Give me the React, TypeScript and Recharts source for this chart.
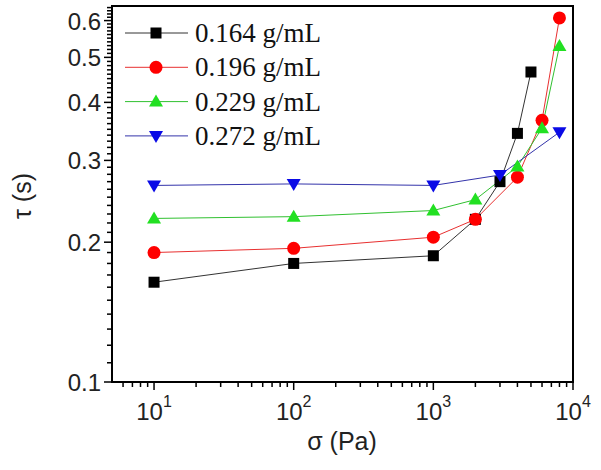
import { ComposedChart, Label, Legend, Line, ReferenceArea, XAxis, YAxis } from "recharts";

// stress sigma (Pa) and relaxation time tau (s), one pair of arrays per concentration
const sigma164 = [10, 100, 1000, 2000, 3000, 4000, 5000];
const tau164 = [0.164, 0.18, 0.187, 0.224, 0.27, 0.343, 0.465];

const sigma196 = [10, 100, 1000, 2000, 4000, 6000, 8000];
const tau196 = [0.19, 0.194, 0.205, 0.224, 0.276, 0.366, 0.608];

const sigma229 = [10, 100, 1000, 2000, 4000, 6000, 8000];
const tau229 = [0.225, 0.227, 0.234, 0.247, 0.291, 0.352, 0.529];

const sigma272 = [10, 100, 1000, 3000, 8000];
const tau272 = [0.265, 0.267, 0.265, 0.279, 0.345];

const seriesNames = ["0.164 g/mL", "0.196 g/mL", "0.229 g/mL", "0.272 g/mL"];

const xMajor = [10, 100, 1000, 10000];
const xMinor = [6, 7, 8, 9, 20, 30, 40, 50, 60, 70, 80, 90, 200, 300, 400, 500, 600, 700, 800, 900, 2000, 3000, 4000, 5000, 6000, 7000, 8000, 9000];
const yMajor = [0.1, 0.2, 0.3, 0.4, 0.5, 0.6];
const yMinor = [
  0.11, 0.12, 0.13, 0.14, 0.15, 0.16, 0.17, 0.18, 0.19,
  0.21, 0.22, 0.23, 0.24, 0.25, 0.26, 0.27, 0.28, 0.29,
  0.31, 0.32, 0.33, 0.34, 0.35, 0.36, 0.37, 0.38, 0.39,
  0.41, 0.42, 0.43, 0.44, 0.45, 0.46, 0.47, 0.48, 0.49,
  0.51, 0.52, 0.53, 0.54, 0.55, 0.56, 0.57, 0.58, 0.59,
  0.61, 0.62, 0.63, 0.64,
];

const X_DOMAIN: [number, number] = [5, 10000];
const Y_DOMAIN: [number, number] = [0.1, 0.645];

const toPoints = (xs: number[], ys: number[]) => xs.map((x, i) => ({ x, y: ys[i] }));

const series = [
  { name: seriesNames[0], data: toPoints(sigma164, tau164), fill: "#000000", stroke: "#333333", shape: "square" },
  { name: seriesNames[1], data: toPoints(sigma196, tau196), fill: "#ff0000", stroke: "#e83030", shape: "circle" },
  { name: seriesNames[2], data: toPoints(sigma229, tau229), fill: "#22e022", stroke: "#30c030", shape: "up" },
  { name: seriesNames[3], data: toPoints(sigma272, tau272), fill: "#0a0ae6", stroke: "#3333aa", shape: "down" },
];

const AXIS_FONT = "'Liberation Sans', Arial, sans-serif";
const SERIF_FONT = "'Liberation Serif', 'Times New Roman', serif";

const Marker = ({ cx, cy, shape, fill }: { cx: number; cy: number; shape: string; fill: string }) => {
  if (shape === "square") return <rect x={cx - 5.5} y={cy - 5.5} width={11} height={11} fill={fill} />;
  if (shape === "circle") return <circle cx={cx} cy={cy} r={6.5} fill={fill} />;
  if (shape === "up")
    return <polygon points={`${cx},${cy - 7} ${cx - 7},${cy + 5} ${cx + 7},${cy + 5}`} fill={fill} />;
  return <polygon points={`${cx - 7},${cy - 5} ${cx + 7},${cy - 5} ${cx},${cy + 7}`} fill={fill} />;
};

const XTick = ({ x, y, payload }: any) => {
  const v = payload.value;
  const major = xMajor.includes(v);
  return (
    <g>
      <line x1={x} x2={x} y1={y} y2={y + (major ? 8 : 5)} stroke="#000" strokeWidth={1.5} />
      {major && (
        <text x={x} y={y + 38} textAnchor="middle" fontFamily={AXIS_FONT} fontSize={24} fill="#222">
          10
          <tspan dy={-13} fontSize={16}>
            {Math.round(Math.log10(v))}
          </tspan>
        </text>
      )}
    </g>
  );
};

const YTick = ({ x, y, payload }: any) => {
  const v = payload.value;
  const major = yMajor.some((m) => Math.abs(m - v) < 1e-9);
  return (
    <g>
      <line x1={x} x2={x - (major ? 8 : 5)} y1={y} y2={y} stroke="#000" strokeWidth={1.5} />
      {major && (
        <text x={x - 11} y={y + 9} textAnchor="end" fontFamily={AXIS_FONT} fontSize={24} fill="#222">
          {v.toFixed(1)}
        </text>
      )}
    </g>
  );
};

const LegendBox = () => (
  <svg width={230} height={140}>
    {series.map((s, i) => {
      const cy = 17 + i * 34.3;
      return (
        <g key={s.name}>
          <line x1={5} x2={68} y1={cy} y2={cy} stroke={s.stroke} strokeWidth={1} />
          <Marker cx={36} cy={cy} shape={s.shape} fill={s.fill} />
          <text x={75} y={cy + 9} fontFamily={SERIF_FONT} fontSize={27} fill="#111">
            {s.name}
          </text>
        </g>
      );
    })}
  </svg>
);

export default function App() {
  return (
    <div style={{ position: "absolute", left: 0, top: 0 }}>
      <ComposedChart width={601} height={470} margin={{ top: 6, right: 28, bottom: 0, left: 0 }}>
        <XAxis
          dataKey="x"
          type="number"
          scale="log"
          domain={X_DOMAIN}
          allowDataOverflow
          ticks={[...xMinor, ...xMajor].sort((a, b) => a - b)}
          interval={0}
          tick={<XTick />}
          tickLine={false}
          tickSize={0}
          tickMargin={0}
          height={88}
          axisLine={{ stroke: "#000", strokeWidth: 2 }}
        >
          <Label
            content={() => (
              <text x={342} y={450} textAnchor="middle" fontFamily={AXIS_FONT} fontSize={25} fill="#222">
                σ (Pa)
              </text>
            )}
          />
        </XAxis>
        <YAxis
          dataKey="y"
          type="number"
          scale="log"
          domain={Y_DOMAIN}
          allowDataOverflow
          ticks={[...yMajor, ...yMinor].sort((a, b) => a - b)}
          interval={0}
          tick={<YTick />}
          tickLine={false}
          tickSize={0}
          tickMargin={0}
          width={112}
          axisLine={{ stroke: "#000", strokeWidth: 2 }}
        >
          <Label
            content={() => (
              <text
                x={31}
                y={196}
                textAnchor="middle"
                transform="rotate(-90 31 196)"
                fontFamily={AXIS_FONT}
                fontSize={25}
                fill="#222"
              >
                τ (s)
              </text>
            )}
          />
        </YAxis>
        <ReferenceArea
          x1={X_DOMAIN[0]}
          x2={X_DOMAIN[1]}
          y1={Y_DOMAIN[0]}
          y2={Y_DOMAIN[1]}
          fill="none"
          stroke="#000"
          strokeWidth={2}
          ifOverflow="visible"
        />
        {series.map((s) => (
          <Line
            key={s.name}
            name={s.name}
            data={s.data}
            dataKey="y"
            stroke={s.stroke}
            strokeWidth={1}
            isAnimationActive={false}
            dot={(p: any) => <Marker key={`${s.name}-${p.index}`} cx={p.cx} cy={p.cy} shape={s.shape} fill={s.fill} />}
            activeDot={false}
          />
        ))}
        <Legend
          layout="vertical"
          align="center"
          verticalAlign="middle"
          content={<LegendBox />}
          wrapperStyle={{ left: 120, top: 16, width: 230, height: 140 }}
        />
      </ComposedChart>
    </div>
  );
}
